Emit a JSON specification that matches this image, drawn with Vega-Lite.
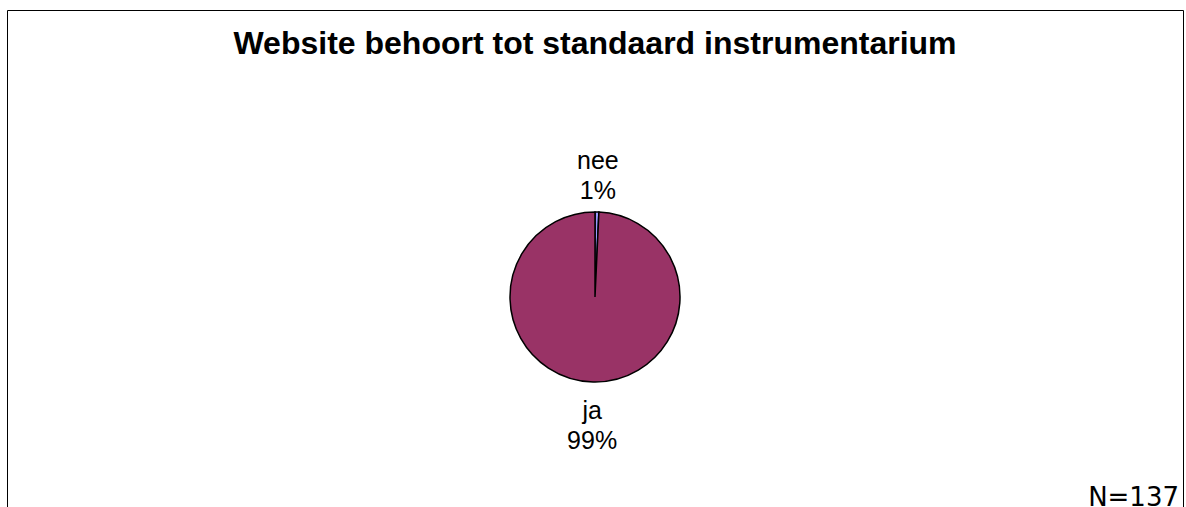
{
  "$schema": "https://vega.github.io/schema/vega-lite/v6.json",
  "autosize": "none",
  "width": 1176,
  "height": 574,
  "padding": {"left": 7, "top": 10, "right": 3, "bottom": 0},
  "background": "white",
  "view": {"stroke": "black", "strokeWidth": 1, "fill": "white"},
  "title": {
    "text": "Website behoort tot standaard instrumentarium",
    "font": "Liberation Sans",
    "fontSize": 32,
    "fontWeight": "bold",
    "color": "black",
    "anchor": "middle",
    "frame": "group",
    "baseline": "alphabetic",
    "offset": -49,
    "dy": 27
  },
  "config": {"view": {"stroke": "black", "strokeWidth": 1}},
  "data": {
    "values": [
      {"antwoord": "nee", "n": 1, "label": "nee\n1%"},
      {"antwoord": "ja", "n": 136, "label": "ja\n99%"}
    ]
  },
  "layer": [
    {
      "encoding": {
        "theta": {"field": "n", "type": "quantitative", "stack": true},
        "order": {"field": "antwoord", "sort": "descending"}
      },
      "layer": [
        {
          "mark": {"type": "arc", "radius": 85, "stroke": "black", "strokeWidth": 1.5},
          "encoding": {
            "color": {
              "field": "antwoord",
              "type": "nominal",
              "scale": {"domain": ["nee", "ja"], "range": ["#9999FF", "#993366"]},
              "legend": null
            }
          }
        },
        {
          "mark": {"type": "text", "radius": 125, "dy": -11, "font": "Liberation Sans", "fontSize": 25, "lineBreak": "\n", "lineHeight": 30, "baseline": "middle", "align": "center", "color": "black"},
          "encoding": {"text": {"field": "label"}}
        }
      ]
    },
    {
      "data": {"values": [{"note": "N=137"}]},
      "mark": {"type": "text", "font": "DejaVu Sans", "fontSize": 26, "align": "right", "baseline": "alphabetic", "x": {"expr": "width - 4"}, "y": {"expr": "height - 78"}, "color": "black"},
      "encoding": {"text": {"field": "note"}}
    }
  ]
}
